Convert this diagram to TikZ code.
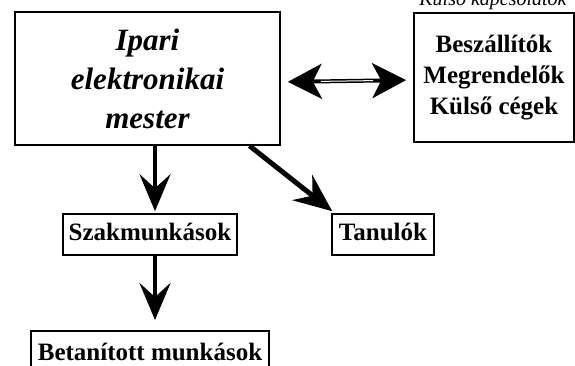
\documentclass[tikz,border=0pt]{standalone}
\usepackage{fontspec}
\setmainfont{Liberation Serif}
\usetikzlibrary{arrows.meta}
\tikzset{
  box/.style={draw, line width=1.6pt, inner sep=0pt, align=center},
  boldtext/.style={font=\bfseries\fontsize{25}{31}\selectfont},
  bigarrow/.style={line width=4pt, -{Stealth[length=37pt,width=31pt,inset=14pt]}},
  diagarrow/.style={line width=5pt, -{Stealth[length=38pt,width=32pt,inset=13pt]}},
  dblarrow/.style={line width=4pt, {Stealth[length=34pt,width=35pt,inset=9pt]}-{Stealth[length=34pt,width=35pt,inset=9pt]}},
}
\begin{document}
\begin{tikzpicture}[x=1pt,y=-1pt]
\useasboundingbox (0,0) rectangle (575,366);
\clip (0,0) rectangle (575,366);
\node[font=\itshape\fontsize{20}{24}\selectfont, anchor=base] (cap) at (493,6) {Külső kapcsolatok};
\node[box, minimum width=265pt, minimum height=133pt, font=\bfseries\itshape\fontsize{31}{39}\selectfont] (main) at (147.5,78.5) {Ipari\\elektronikai\\mester};
\node[box, boldtext, minimum width=160pt, minimum height=129pt] (ext) at (494,77.5) {Beszállítók\\Megrendelők\\Külső cégek};
\node[box, boldtext, minimum width=174pt, minimum height=41pt, text height=17pt, text depth=5pt] (szak) at (150,234.5) {Szakmunkások};
\node[box, boldtext, minimum width=102pt, minimum height=41pt, text height=17pt, text depth=5pt] (tan) at (383,234.5) {Tanulók};
\node[box, boldtext, minimum width=238pt, anchor=north, text height=17pt, text depth=5pt, inner ysep=13pt] (betan) at (150,330) {Betanított munkások};
\draw[bigarrow] ([xshift=5pt]szak.north |- main.south) -- ([xshift=5pt,yshift=2pt]szak.north);
\draw[bigarrow, shorten >=10pt] ([xshift=5pt]szak.south) -- ([xshift=5pt]betan.north);
\draw[diagarrow] ([xshift=102pt]main.south) -- ([xshift=1pt,yshift=2pt]tan.north west);
\draw[dblarrow, shorten <=7pt, shorten >=7pt] ([yshift=-3.5pt]main.east) -- ([yshift=-2.5pt]ext.west);
\draw[white, line width=1pt, shorten <=40pt, shorten >=40pt] ([yshift=-3.5pt]main.east) -- ([yshift=-2.5pt]ext.west);
\end{tikzpicture}
\end{document}
